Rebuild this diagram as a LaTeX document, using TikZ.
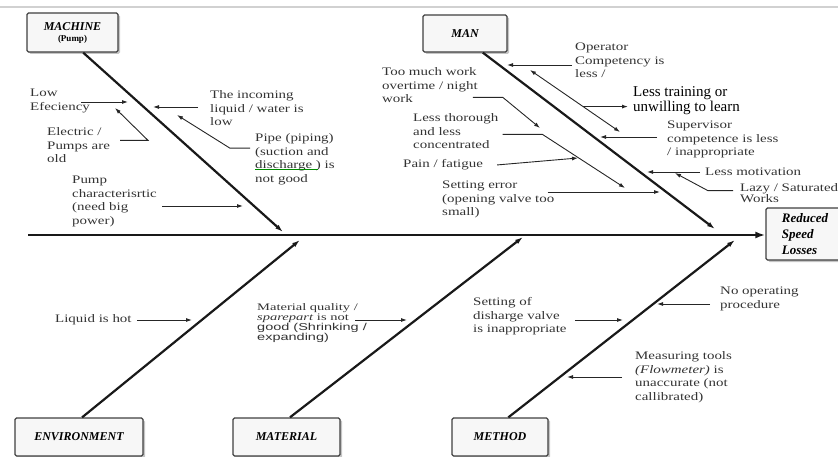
\documentclass[tikz,border=0pt]{standalone}
\usepackage{fontspec}
\setmainfont{Liberation Serif}
\setsansfont{Liberation Sans}
\usepackage{graphicx}
\usepackage{tikz}
\usetikzlibrary{shapes, arrows.meta, positioning, calc, shadows}

\newcommand{\causelines}[2][1.3]{\scalebox{#1}[1]{\begin{tabular}{@{}l@{}}#2\end{tabular}}}

\tikzset{
	catbox/.style={draw=black!75, line width=1.3pt, fill=black!3, rounded corners=1.5pt, align=center, inner sep=2pt,
		drop shadow={shadow xshift=2pt, shadow yshift=-2pt, fill=black!45},
		font=\fontsize{12}{14}\selectfont\bfseries\itshape},
	causetext/.style={anchor=north west, inner sep=0pt, text=black!80,
		font=\fontsize{11.5}{13.5}\selectfont},
	bone/.style={line width=2.2pt, black!90, -{Latex[length=8pt, width=5pt]}},
	cause/.style={line width=0.9pt, black!85, -{Latex[length=6pt, width=4pt]}},
}

\begin{document}
\begin{tikzpicture}[x=1pt, y=-1pt]
	\useasboundingbox (0,0) rectangle (838,457);
	\draw[black!18, line width=1.5pt] (0,7) -- (838,7);

	\node[catbox, minimum width=91pt, minimum height=39pt] (machine) at (72.5,32.5) {MACHINE\\[-3pt]{\fontsize{9}{10}\selectfont\upshape (Pump)}};
	\node[catbox, minimum width=84pt, minimum height=37pt] (man) at (465,33.5) {MAN};
	\node[catbox, minimum width=78pt, minimum height=52pt, align=left, font=\fontsize{13}{16}\selectfont\bfseries\itshape] (reduced) at (805,234) {Reduced\\Speed\\Losses};
	\node[catbox, minimum width=128pt, minimum height=38pt] (environment) at (79,437) {ENVIRONMENT};
	\node[catbox, minimum width=107pt, minimum height=38pt] (material) at (286.5,437) {MATERIAL};
	\node[catbox, minimum width=96pt, minimum height=38pt] (method) at (500,437) {METHOD};

	\coordinate (tail) at (28,235);
	\draw[line width=2.6pt, black!90, -{Latex[length=10pt, width=7pt]}] (tail) -- (tail -| reduced.west);

	\coordinate (machine head) at (283,232);
	\coordinate (man head) at (715,229);
	\coordinate (environment head) at (300,240);
	\coordinate (material head) at (523,237);
	\coordinate (method head) at (735,240);
	\draw[bone] (machine.-62) -- (machine head);
	\draw[bone] (man.-47) -- (man head);
	\draw[bone] (environment.81) -- (environment head);
	\draw[bone] (material.80) -- (material head);
	\draw[bone] (method.67) -- (method head);

	\node[causetext] (low) at (30,87) {\causelines{Low\\Efeciency}};
	\node[causetext] (incoming) at (210,89) {\causelines{The incoming\\liquid / water is\\low}};
	\node[causetext] (electric) at (47,126) {\causelines{Electric /\\Pumps are\\old}};
	\node[causetext] (pipe) at (255,132) {\causelines{Pipe (piping)\\(suction and\\discharge ) is\\not good}};
	\node[causetext] (pumpchar) at (72,174) {\causelines{Pump\\characterisrtic\\(need big\\power)}};
	\draw[green!55!black, line width=0.6pt] (255,169) -- (318,169);
	\coordinate (low tip) at (128,102);
	\coordinate (incoming tip) at (153,107);
	\coordinate (electric tip) at (115,108);
	\coordinate (pipe tip) at (177,115);
	\coordinate (pumpchar tip) at (243,206);
	\draw[cause] (low tip -| low.east) ++(-9,0) -- (low tip);
	\draw[cause] (incoming tip -| incoming.west) ++(-12,0) -- (incoming tip);
	\draw[cause] (electric.east) ++(10,-6) -- ++(28,0) -- (electric tip);
	\draw[cause] (pipe.west) ++(-5,-11) -- ++(-20,0) -- (pipe tip);
	\draw[cause] (pumpchar tip -| pumpchar.east) ++(5,0) -- (pumpchar tip);

	\node[causetext] (operator) at (575,41) {\causelines{Operator\\Competency is\\less /}};
	\node[causetext, text=black, font=\fontsize{15}{15.5}\selectfont] (training) at (633,85) {\causelines[1]{Less training or\\unwilling to learn}};
	\node[causetext] (supervisor) at (667,119) {\causelines{Supervisor\\competence is less\\/ inappropriate}};
	\node[causetext] (toomuch) at (382,66) {\causelines{Too much work\\overtime / night\\work}};
	\node[causetext] (thorough) at (413,112) {\causelines{Less thorough\\and less\\concentrated}};
	\node[causetext] (pain) at (403,158) {\causelines{Pain / fatigue}};
	\node[causetext] (error) at (442,179) {\causelines{Setting error\\(opening valve too\\small)}};
	\node[causetext] (motivation) at (705,166) {\causelines{Less motivation}};
	\node[causetext, font=\fontsize{11.5}{11.5}\selectfont] (lazy) at (740,183) {\causelines{Lazy / Saturated\\Works}};
	\coordinate (operator tip) at (507,65);
	\coordinate (competency a) at (530,70);
	\coordinate (competency b) at (620,132);
	\coordinate (training link) at ($(competency a)!0.59!(competency b)$);
	\coordinate (supervisor tip) at (600,137);
	\coordinate (toomuch tip) at (540,128);
	\coordinate (thorough tip) at (625,188);
	\coordinate (pain tip) at (578,158);
	\coordinate (error tip) at (660,192);
	\coordinate (motivation tip) at (647,172);
	\coordinate (lazy tip) at (675,173);
	\draw[cause] (operator tip -| operator.west) ++(-3,0) -- (operator tip);
	\draw[cause, {Latex[length=6pt, width=4pt]}-{Latex[length=6pt, width=4pt]}] (competency a) -- (competency b);
	\draw[cause, shorten >=5pt] (training link) -- (training link -| training.west);
	\draw[cause] (supervisor tip -| supervisor.west) ++(-10,0) -- (supervisor tip);
	\draw[cause] (toomuch.east) ++(-5,11) -- ++(30,0) -- (toomuch tip);
	\draw[cause] (thorough.east) ++(4,2) -- ++(40,0) -- (thorough tip);
	\draw[cause] (pain.east) ++(14,0) -- (pain tip);
	\draw[cause] (error tip -| error.east) ++(-7,0) -- (error tip);
	\draw[cause] (motivation tip -| motivation.west) ++(-5,0) -- (motivation tip);
	\draw[cause] (lazy.west) ++(-7,-4) -- ++(-25,0) -- (lazy tip);

	\node[causetext] (hot) at (55,313) {\causelines{Liquid is hot}};
	\node[causetext, font=\fontsize{10}{10}\selectfont] (quality) at (257,303) {\causelines[1.45]{Material quality /\\\textit{sparepart} is not\\\sffamily good (Shrinking /\\\sffamily expanding)}};
	\node[causetext] (valve) at (473,296) {\causelines{Setting of\\disharge valve\\is inappropriate}};
	\node[causetext] (procedure) at (720,285) {\causelines{No operating\\procedure}};
	\node[causetext] (measuring) at (635,350) {\causelines{Measuring tools\\\textit{(Flowmeter)} is\\unaccurate (not\\callibrated)}};
	\coordinate (hot tip) at (192,320);
	\coordinate (quality tip) at (407,320);
	\coordinate (valve tip) at (623,320);
	\coordinate (procedure tip) at (657,304);
	\coordinate (measuring tip) at (567,377);
	\draw[cause] (hot tip -| hot.east) ++(5,0) -- (hot tip);
	\draw[cause] (quality tip -| quality.east) ++(-12,0) -- (quality tip);
	\draw[cause] (valve tip -| valve.east) ++(8,0) -- (valve tip);
	\draw[cause] (procedure tip -| procedure.west) ++(-10,0) -- (procedure tip);
	\draw[cause] (measuring tip -| measuring.west) ++(-13,0) -- (measuring tip);
\end{tikzpicture}
\end{document}
